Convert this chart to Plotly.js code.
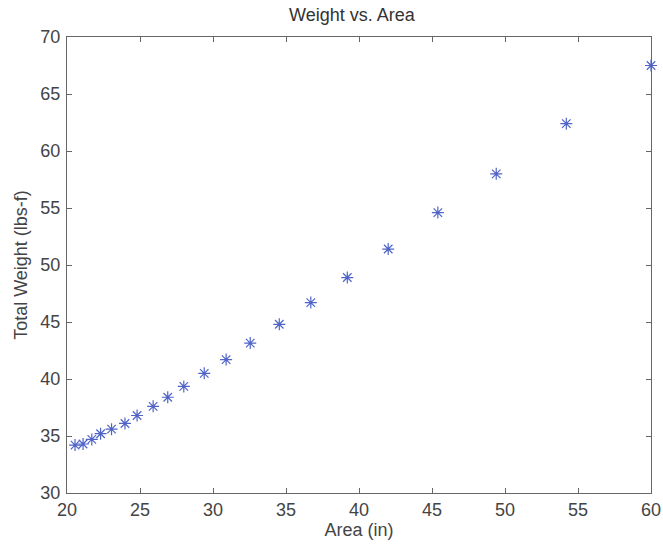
<!DOCTYPE html>
<html>
<head>
<meta charset="utf-8">
<script src="https://cdn.plot.ly/plotly-3.0.1.min.js"></script>
<style>html,body{margin:0;padding:0;background:#fff;}#chart{width:663px;height:545px;}</style>
</head>
<body>
<div id="chart"></div>
<script>
const area = [20.55, 21.1, 21.7, 22.3, 23.05, 23.97, 24.8, 25.9, 26.9, 28.0, 29.4, 30.9, 32.55, 34.54, 36.7, 39.2, 42.0, 45.4, 49.4, 54.2, 60.0];
const weight = [34.2, 34.3, 34.7, 35.2, 35.6, 36.1, 36.8, 37.6, 38.4, 39.35, 40.5, 41.7, 43.15, 44.8, 46.7, 48.9, 51.4, 54.6, 58.0, 62.4, 67.5];
const xTicks = [20, 25, 30, 35, 40, 45, 50, 55, 60];
const yTicks = [30, 35, 40, 45, 50, 55, 60, 65, 70];

const fontFam = '"Liberation Sans", Arial, sans-serif';
const axisCommon = {
  showgrid: false, zeroline: false, showline: true, linecolor: '#666', linewidth: 1,
  mirror: 'ticks', ticks: 'inside', ticklen: 5, tickcolor: '#666',
  tickfont: {family: fontFam, size: 18, color: '#444'}
};

Plotly.newPlot('chart', [{
  x: area, y: weight, type: 'scatter', mode: 'markers', cliponaxis: false,
  marker: {symbol: 'asterisk-open', size: 10, color: '#5064c8', line: {color: '#5064c8', width: 1.2}}
}], {
  width: 663, height: 545,
  margin: {l: 67, r: 12, t: 37, b: 52},
  paper_bgcolor: '#fff', plot_bgcolor: '#fff',
  showlegend: false,
  title: {text: 'Weight vs. Area', font: {family: fontFam, size: 18, color: '#333'}, x: 0.488, xref: 'paper', xanchor: 'center', y: 1 - 15/545, yref: 'container', yanchor: 'middle'},
  xaxis: Object.assign({}, axisCommon, {
    range: [20, 60], tickvals: xTicks, ticktext: xTicks.map(String),
    ticklabelstandoff: 0,
    title: {text: 'Area (in)', font: {family: fontFam, size: 18, color: '#444'}, standoff: 2}
  }),
  yaxis: Object.assign({}, axisCommon, {
    range: [30, 70], tickvals: yTicks, ticktext: yTicks.map(String),
    ticklabelstandoff: 2,
    title: {text: 'Total Weight (lbs-f)', font: {family: fontFam, size: 18, color: '#444'}, standoff: 8}
  })
}, {displayModeBar: false, staticPlot: true});
</script>
</body>
</html>
